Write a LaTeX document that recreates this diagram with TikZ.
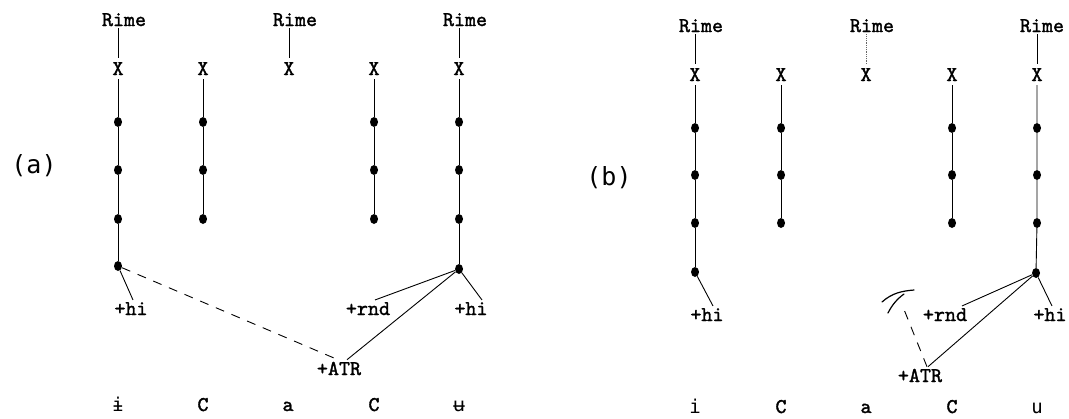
\documentclass[tikz,border=0pt]{standalone}
\usepackage{fontspec}
\newfontfamily\ipafont{DejaVu Sans Mono}
\newfontfamily\panelfont{DejaVu Sans Mono}
\newfontfamily\twfont{lmmono10-regular.otf}[FakeBold=1.6]
\usetikzlibrary{calc}
\tikzset{
  lbl/.style={font={\fontsize{21}{21}\selectfont\twfont\bfseries}, inner sep=2pt, anchor=base},
  xn/.style={lbl, inner sep=4pt},
  seg/.style={lbl, inner sep=0pt},
  ipa/.style={font={\fontsize{19}{19}\selectfont\ipafont}, inner sep=0pt, anchor=base},
  panel/.style={font={\fontsize{25}{25}\selectfont\panelfont}, inner sep=0pt},
  dotn/.style={ellipse, fill=black, inner sep=0pt, minimum width=8pt, minimum height=10pt},
  ln/.style={line width=0.9pt},
  faint/.style={line width=0.8pt, densely dotted, black!60},
  dsh/.style={line width=0.9pt, dash pattern=on 9pt off 8pt},
}
\usetikzlibrary{shapes.geometric}
\begin{document}
\begin{tikzpicture}[x=1pt,y=-1pt]
\useasboundingbox (0,0) rectangle (1069,418);

% ================= panel (a) =================
\node[panel] (pa) at (34,166) {(a)};
\node[lbl] (ra1) at (124,26) {Rime};
\node[lbl] (ra3) at (295,26) {Rime};
\node[lbl] (ra5) at (465,26) {Rime};
\node[xn] (xa1) at (118,75) {X};
\node[xn] (xa2) at (203,75) {X};
\node[xn] (xa3) at (289,75) {X};
\node[xn] (xa4) at (374,75) {X};
\node[xn] (xa5) at (459,75) {X};
\node[dotn] (a11) at (118,122) {};
\node[dotn] (a12) at (118,170) {};
\node[dotn] (a13) at (118,219) {};
\node[dotn] (a14) at (118,266) {};
\node[dotn] (a21) at (203,122) {};
\node[dotn] (a22) at (203,170) {};
\node[dotn] (a23) at (203,219) {};
\node[dotn] (a41) at (374,122) {};
\node[dotn] (a42) at (374,170) {};
\node[dotn] (a43) at (374,219) {};
\node[dotn] (a51) at (459,122) {};
\node[dotn] (a52) at (459,170) {};
\node[dotn] (a53) at (459,219) {};
\node[dotn] (a54) at (459,269) {};
\node[lbl] (hia1) at (131,315) {+hi};
\node[lbl] (rnda) at (368,315) {+rnd};
\node[lbl] (hia5) at (471,315) {+hi};
\node[lbl] (atra) at (339,375) {+ATR};
\node[ipa] (sa1) at (118,411) {ɨ};
\node[seg] (sa2) at (203,411) {C};
\node[seg] (sa3) at (288,411) {a};
\node[seg] (sa4) at (374,411) {C};
\node[ipa] (sa5) at (459,411) {ʉ};
\draw[ln] (ra1.south -| xa1.north) -- (xa1.north);
\draw[ln] (ra3.south -| xa3.north) -- (xa3.north);
\draw[ln] (ra5.south -| xa5.north) -- (xa5.north);
\draw[ln] (xa1.south) -- (a11) -- (a12) -- (a13) -- (a14);
\draw[ln] (xa2.south) -- (a21) -- (a22) -- (a23);
\draw[ln] (xa4.south) -- (a41) -- (a42) -- (a43);
\draw[ln] (xa5.south) -- (a51) -- (a52) -- (a53) -- (a54);
\draw[ln] (a14) -- ($(hia1.north)+(2,0)$);
\draw[ln] (a54) -- ($(rnda.north)+(7,0)$);
\draw[ln] (a54) -- ($(hia5.north)+(11,0)$);
\draw[ln] (a54) -- ($(atra.north)+(8,0)$);
\draw[dsh] (a14) -- ($(atra.north)+(-1,0)$);

% ================= panel (b) =================
\node[panel] (pb) at (609,178) {(b)};
\node[lbl] (rb1) at (701,32) {Rime};
\node[lbl] (rb3) at (872,32) {Rime};
\node[lbl] (rb5) at (1042,32) {Rime};
\node[xn] (xb1) at (695,81) {X};
\node[xn] (xb2) at (781,81) {X};
\node[xn] (xb3) at (866,81) {X};
\node[xn] (xb4) at (952,81) {X};
\node[xn] (xb5) at (1037,81) {X};
\node[dotn] (b11) at (695,128) {};
\node[dotn] (b12) at (695,175) {};
\node[dotn] (b13) at (695,223) {};
\node[dotn] (b14) at (695,272) {};
\node[dotn] (b21) at (781,128) {};
\node[dotn] (b22) at (781,175) {};
\node[dotn] (b23) at (781,223) {};
\node[dotn] (b41) at (952,128) {};
\node[dotn] (b42) at (952,175) {};
\node[dotn] (b43) at (952,223) {};
\node[dotn] (b51) at (1037,128) {};
\node[dotn] (b52) at (1037,175) {};
\node[dotn] (b53) at (1037,223) {};
\node[dotn] (b54) at (1036,273) {};
\node[lbl] (hib1) at (707,321) {+hi};
\node[lbl] (rndb) at (945,321) {+rnd};
\node[lbl] (hib5) at (1050,321) {+hi};
\node[lbl] (atrb) at (920,382) {+ATR};
\node[ipa] (sb1) at (695,413) {i};
\node[seg] (sb2) at (781,413) {C};
\node[seg] (sb3) at (866,413) {a};
\node[seg] (sb4) at (952,413) {C};
\node[ipa] (sb5) at (1037,413) {u};
\coordinate (tie) at (903,307);
\draw[ln] (rb1.south -| xb1.north) -- (xb1.north);
\draw[faint] (rb3.south -| xb3.north) -- (xb3.north);
\draw[ln] (rb5.south -| xb5.north) -- (xb5.north);
\draw[ln] (xb1.south) -- (b11) -- (b12) -- (b13) -- (b14);
\draw[ln] (xb2.south) -- (b21) -- (b22) -- (b23);
\draw[ln] (xb4.south) -- (b41) -- (b42) -- (b43);
\draw[ln] (xb5.south) -- (b51) -- (b52) -- (b53) -- (b54);
\draw[ln] (b14) -- ($(hib1.north)+(6,0)$);
\draw[ln] (b54) -- ($(rndb.north)+(17,0)$);
\draw[ln] (b54) -- ($(hib5.north)+(2,0)$);
\draw[ln] (b54) -- ($(atrb.north)+(8,0)$);
\draw[dsh] ($(atrb.north)+(7,0)$) -- (tie);
% hand-drawn mark
\draw[line width=1.2pt, line cap=round] (882,302) .. controls (892,293) and (902,291) .. (914,290);
\draw[line width=1.2pt, line cap=round] (888,313) .. controls (892,305) and (897,299) .. (904,294);
\end{tikzpicture}
\end{document}
